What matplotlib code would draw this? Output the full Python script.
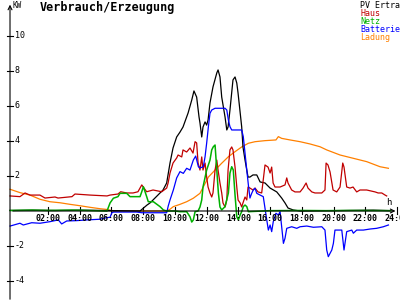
import matplotlib
matplotlib.use('Agg')
import matplotlib.pyplot as plt

# Stunden und Werte (kW) je Kurve
pv_h = [-0.39, 1.0, 2.5, 4.0, 5.5, 7.61, 7.80, 8.24, 8.43, 8.62, 9.06, 9.25, 9.48, 9.69, 9.88,
        10.11, 10.32, 10.51, 10.83, 11.06, 11.20, 11.37, 11.52, 11.58, 11.69, 11.77, 11.90,
        12.0, 12.09, 12.21, 12.40, 12.64, 12.72, 12.84, 12.95, 13.16, 13.27, 13.35, 13.47,
        13.66, 13.79, 13.90, 13.98, 14.21, 14.29, 14.42, 14.53, 14.61, 14.73, 14.92, 15.16,
        15.37, 15.68, 16.0, 16.42, 16.73, 16.94, 17.13, 17.45, 17.89, 20.0, 22.5, 23.6]
pv_v = [0.03, 0.05, 0.03, 0.05, 0.03, 0.0, 0.0, 0.34, 0.46, 0.63, 1.03, 1.20, 1.6, 2.74, 3.6,
        4.23, 4.51, 4.8, 5.6, 6.34, 6.86, 6.51, 5.37, 5.03, 4.23, 4.8, 5.09,
        4.91, 5.2, 6.17, 7.09, 7.89, 8.06, 7.66, 6.51, 5.37, 4.63, 4.8, 5.77,
        7.49, 7.66, 7.31, 6.74, 4.8, 3.66, 2.91, 2.34, 1.94, 1.94, 2.06, 2.06,
        1.66, 1.6, 1.31, 1.09, 0.74, 0.46, 0.17, 0.06, 0.0, 0.02, 0.05, 0.02]

haus_h = [-0.39, 0.23, 0.55, 0.86, 1.49, 1.81, 2.44, 2.63, 3.51, 3.70, 4.65, 5.72, 5.91, 6.41,
          6.58, 6.96, 7.36, 7.67, 7.91, 8.05, 8.22, 8.62, 9.17, 9.48, 9.57, 9.69, 9.88, 10.11,
          10.2, 10.43, 10.51, 10.74, 10.95, 11.14, 11.27, 11.37, 11.46, 11.58, 11.69, 11.77,
          11.90, 12.0, 12.09, 12.21, 12.32, 12.40, 12.53, 12.64, 12.72, 12.84, 12.95, 13.03,
          13.16, 13.27, 13.35, 13.47, 13.58, 13.66, 13.79, 13.90, 13.98, 14.11, 14.21, 14.29,
          14.42, 14.53, 14.61, 14.73, 14.92, 15.05, 15.24, 15.47, 15.68, 15.87, 16.0, 16.1,
          16.19, 16.31, 16.63, 16.94, 17.05, 17.13, 17.36, 17.57, 17.89, 18.08, 18.27, 18.39,
          18.63, 18.83, 19.26, 19.46, 19.53, 19.65, 19.78, 19.97, 20.2, 20.41, 20.58, 20.66,
          20.83, 21.04, 21.23, 21.46, 21.67, 22.09, 22.62, 22.81, 23.04, 23.25, 23.35]
haus_v = [0.86, 0.82, 1.03, 0.91, 0.91, 0.74, 0.8, 0.74, 0.82, 0.97, 0.91, 0.86, 0.91, 0.97,
          1.10, 1.03, 1.03, 1.10, 1.49, 1.31, 1.10, 1.2, 1.10, 1.31, 1.6, 2.17, 2.74, 3.03,
          3.2, 3.09, 3.49, 3.37, 3.6, 3.31, 3.96, 3.89, 2.74, 2.34, 3.09, 2.34,
          2.74, 1.94, 1.37, 1.03, 0.8, 1.03, 2.34, 2.91, 2.34, 1.6, 1.03, 0.46,
          0.23, 0.63, 2.34, 3.49, 3.66, 3.49, 2.51, 1.37, 0.63, 0.46, 0.23, 0.46,
          0.8, 0.63, 1.37, 1.31, 1.2, 1.31, 1.09, 1.03, 2.63, 2.51, 2.17, 2.51,
          1.6, 1.37, 1.37, 1.49, 1.89, 1.6, 1.2, 1.09, 1.09, 1.31, 1.6, 1.31,
          1.09, 1.03, 1.03, 1.2, 2.74, 2.63, 2.23, 1.2, 1.09, 1.37, 2.74, 2.51,
          1.37, 1.31, 1.37, 1.09, 1.2, 1.2, 1.09, 1.03, 1.03, 0.91, 0.86]

netz_h = [-0.39, 1.0, 2.0, 3.5, 4.5, 5.72, 5.91, 6.12, 6.41, 6.54, 6.96, 7.17, 7.80, 7.91,
          8.01, 8.22, 8.32, 8.64, 9.06, 9.27, 9.48, 10.0, 10.32, 10.74, 10.95, 11.06, 11.16,
          11.27, 11.46, 11.58, 11.69, 11.77, 12.0, 12.21, 12.32, 12.42, 12.53, 12.64, 12.74,
          12.84, 12.95, 13.16, 13.37, 13.47, 13.58, 13.68, 13.79, 13.90, 14.0, 14.11, 14.21,
          14.31, 14.42, 14.53, 14.63, 16.0, 18.0, 19.5, 21.0, 23.6]
netz_v = [0.03, 0.05, 0.03, 0.05, 0.03, 0.0, 0.46, 0.73, 0.82, 1.01, 1.01, 0.82, 0.82, 1.1,
          1.39, 0.82, 0.53, 0.53, 0.25, 0.06, 0.0, 0.0, -0.04, -0.04, -0.33, -0.63, -0.51,
          -0.04, 0.0, 0.23, 0.63, 1.37, 2.34, 2.91, 3.49, 3.67, 3.77, 2.34, 1.03,
          0.23, 0.06, 0.25, 1.03, 2.17, 2.53, 2.34, 0.91, -0.33, -0.51, -0.23, -0.04,
          0.25, 0.34, 0.25, -0.04, 0.02, 0.03, 0.02, 0.03, 0.02]

batt_h = [-0.39, 0.23, 0.44, 0.97, 1.49, 2.12, 2.65, 2.86, 3.18, 3.81, 4.44, 5.28, 5.70,
          5.91, 6.02, 6.12, 7.59, 7.91, 9.48, 9.58, 9.69, 9.90, 10.11, 10.32, 10.53, 10.74,
          10.95, 11.16, 11.31, 11.48, 11.58, 11.79, 11.90, 12.0, 12.11, 12.21, 12.32, 12.53,
          13.16, 13.27, 13.37, 13.47, 13.58, 14.21, 14.31, 14.42, 14.53, 14.63, 14.73, 14.84,
          14.94, 15.05, 15.16, 15.37, 15.57, 15.68, 15.79, 15.89, 16.0, 16.1, 16.2, 16.37,
          16.52, 16.63, 16.73, 16.84, 16.94, 17.05, 17.36, 17.68, 17.89, 18.31, 18.73, 19.26,
          19.46, 19.57, 19.67, 19.89, 19.99, 20.09, 20.52, 20.66, 20.83, 21.15, 21.25, 21.46,
          21.88, 22.30, 22.72, 23.14, 23.46]
batt_v = [-0.86, -0.70, -0.8, -0.67, -0.70, -0.61, -0.51, -0.74, -0.57, -0.55, -0.51, -0.47,
          -0.38, -0.36, -0.11, -0.06, -0.06, -0.1, -0.1, 0.29, 0.63, 1.2, 1.89, 2.25, 2.15,
          2.44, 2.34, 2.91, 3.14, 2.53, 2.46, 2.53, 3.1, 3.87, 4.82, 5.58, 5.77, 5.87,
          5.87, 5.77, 5.2, 4.82, 4.63, 4.63, 4.25, 3.3, 2.34, 1.49, 0.74, 1.01,
          1.2, 1.3, 1.01, 0.91, 0.82, 0.15, -0.51, -1.09, -0.8, -1.18, -0.61, -0.13,
          -0.23, -0.04, -0.9, -1.85, -1.56, -0.99, -0.9, -0.99, -0.9, -0.86, -0.93, -0.9,
          -1.09, -2.23, -2.61, -2.23, -1.85, -1.09, -1.09, -2.23, -1.18, -1.09, -1.27, -1.09,
          -1.09, -1.03, -0.99, -0.9, -0.8]

ladung_h = [-0.39, 0.23, 0.86, 1.49, 2.12, 2.76, 3.39, 4.02, 4.65, 5.28, 5.70, 6.12, 9.48,
            9.69, 9.90, 10.32, 10.74, 11.16, 11.58, 12.11, 12.53, 12.95, 13.37, 13.79, 14.21,
            14.63, 15.05, 15.68, 16.37, 16.52, 16.73, 17.26, 17.89, 18.52, 19.15, 19.57,
            20.41, 21.25, 22.09, 22.93, 23.46]
ladung_v = [1.24, 1.05, 0.91, 0.67, 0.53, 0.47, 0.38, 0.30, 0.21, 0.13, 0.09, 0.0, 0.0,
            0.1, 0.25, 0.38, 0.53, 0.73, 1.01, 1.94, 2.34, 2.73, 3.1, 3.39, 3.66,
            3.87, 3.96, 4.02, 4.06, 4.25, 4.15, 4.06, 3.96, 3.83, 3.67, 3.49,
            3.2, 3.01, 2.82, 2.53, 2.44]

x_ticks = [2, 4, 6, 8, 10, 12, 14, 16, 18, 20, 22, 24]
y_ticks = [-4, -2, 2, 4, 6, 8, 10]
legend_names = ['PV Ertra', 'Haus', 'Netz', 'Batterie', 'Ladung']
legend_colors = ['black', '#c00000', '#00b000', '#0000ff', '#ff8000']

fig = plt.figure(figsize=(4, 3), dpi=100)
ax = fig.add_axes([0, 0, 1, 1])
ax.set_xlim(-1.028, 24.19)
ax.set_ylim(-5.086, 12.057)
ax.axis('off')

x0 = -0.397  # Position der y-Achse

# Achsen mit Pfeilen
ax.annotate('', xy=(x0, 11.95), xytext=(x0, -5.2),
            arrowprops=dict(arrowstyle='->', lw=0.8, color='black', mutation_scale=7))
ax.annotate('', xy=(24.08, 0), xytext=(x0, 0),
            arrowprops=dict(arrowstyle='->', lw=0.8, color='black', mutation_scale=7))

mono = 'DejaVu Sans Mono'
for t in y_ticks:
    ax.plot([x0 - 0.2, x0 + 0.2], [t, t], color='black', lw=0.8)
    ax.text(x0 + 0.3, t, str(t), fontsize=6, family=mono, va='center', ha='left')
for t in x_ticks:
    ax.plot([t, t], [-0.2, 0.2], color='black', lw=0.8)
    ax.text(t, -0.2, '%02d:00' % t, fontsize=6, family=mono, fontweight='bold',
            va='top', ha='center')

# Kurven
ax.plot(ladung_h, ladung_v, color='#ff8000', lw=0.9)
ax.plot(pv_h, pv_v, color='black', lw=0.9)
ax.plot(haus_h, haus_v, color='#c00000', lw=0.9)
ax.plot(batt_h, batt_v, color='#0000ff', lw=0.9)
ax.plot(netz_h, netz_v, color='#00b000', lw=1.1)

# Beschriftungen
ax.text(-0.22, 12.0, 'KW', fontsize=5.5, family=mono, va='top', ha='left')
ax.text(1.5, 12.0, 'Verbrauch/Erzeugung', fontsize=8.5, family=mono, fontweight='bold',
        va='top', ha='left')
ax.text(23.3, 0.25, 'h', fontsize=6.5, family=mono, va='bottom', ha='left')
for i, (name, col) in enumerate(zip(legend_names, legend_colors)):
    ax.text(21.67, 12.0 - i * 8 / 17.5, name, fontsize=6, family=mono, color=col,
            va='top', ha='left')

plt.savefig('out.png', dpi=100)
